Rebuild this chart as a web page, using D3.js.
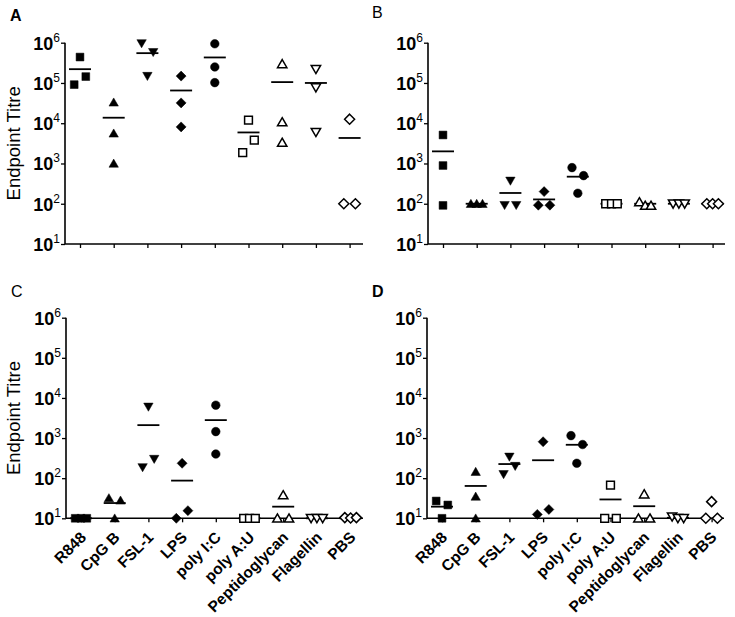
<!DOCTYPE html>
<html><head><meta charset="utf-8">
<script src="https://d3js.org/d3.v7.min.js"></script>
<style>body{margin:0;background:#fff}svg{display:block}</style>
</head><body>
<script>
const categories = ["R848","CpG B","FSL-1","LPS","poly I:C","poly A:U","Peptidoglycan","Flagellin","PBS"];
const tickExponents = [1,2,3,4,5,6];
// marker kind per category
const markerShape = ["square","triUp","triDown","diamond","circle","square","triUp","triDown","diamond"];
const markerFilled = [true,true,true,true,true,false,false,false,false];

// values per panel: 3 animals per category
const valuesA = [[4.4e5,9.1e4,1.44e5],[3.3e4,5.6e3,1.0e3],[9.6e5,5.8e5,1.48e5],[1.48e5,3.2e4,8.1e3],[9.4e5,2.5e5,1.02e5],[1.2e4,3.8e3,1.86e3],[2.97e5,1.07e4,3.3e3],[2.2e5,7.7e4,6.0e3],[1.26e4,100,100]];
const slotsA  = [[0,-1,1],[0,0,0],[-1,1,0],[0,0,0],[0,0,0],[0,1,-1],[0,0,0],[0,0,0],[0,-1,1]];
const meansA  = [2.2e5,1.37e4,5.5e5,6.5e4,4.3e5,5.9e3,1.05e5,1.0e5,4.3e3];

const valuesB = [[5.1e3,890,91],[100,100,100],[370,92,92],[200,92,92],[790,500,182],[100,100,100],[110,90,90],[100,100,100],[100,100,100]];
const slotsB  = [[0,0,0],[-1,0,1],[0,-1,1],[0,-1,1],[-1,1,0],[-1,0,1],[-1,0,1],[-1,0,1],[-1,0,1]];
const meansB  = [2.0e3,100,185,128,470,100,100,100,100];

const valuesC = [[10,10,10],[32,28,10],[6.0e3,186,300],[235,10,15.5],[6.6e3,1.45e3,400],[10,10,10],[38,10,10],[10,10,10],[10.4,10.2,10.4]];
const slotsC  = [[-1,0,1],[-1,1,0],[0,-1,1],[0,-1,1],[0,0,0],[-1,0,1],[0,-1,1],[-1,0,1],[-1,0,1]];
const meansC  = [10,24,2.1e3,87,2.8e3,10,19.5,10,10];

const valuesD = [[27,21.5,10],[145,35,10],[340,125,200],[810,12.5,16.6],[1150,690,235],[67,10,10],[40,10,10],[11,10,10],[26,10,10]];
const slotsD  = [[-1,1,0],[0,0,0],[0,-1,1],[0,-1,1],[-1,1,0],[0,-1,1],[0,-1,1],[-1,0,1],[0,-1,1]];
const meansD  = [19.5,64,225,280,680,29.5,20,10.3,null];

const panels = [
  {label:"A", bold:true,  lx:10, ly:21,  x0:65,  x1:363, yTop:42.7, yBot:244, values:valuesA, slots:slotsA, means:meansA, ylab:true,  xlab:false},
  {label:"B", bold:false, lx:372,ly:18,  x0:428, x1:725, yTop:42.7, yBot:244, values:valuesB, slots:slotsB, means:meansB, ylab:false, xlab:false},
  {label:"C", bold:false, lx:11, ly:297, x0:66,  x1:363, yTop:317.7,yBot:518.3,values:valuesC, slots:slotsC, means:meansC, ylab:true,  xlab:true},
  {label:"D", bold:true,  lx:372,ly:297, x0:427, x1:724, yTop:317.7,yBot:518.3,values:valuesD, slots:slotsD, means:meansD, ylab:false, xlab:true}
];

const W = 735, H = 617;
const svg = d3.select("body").append("svg").attr("width",W).attr("height",H)
  .style("font-family","Arial, 'Liberation Sans', sans-serif");

function markerPath(shape){
  const p = d3.path();
  if(shape==="square"){ const s=3.9; p.rect(-s,-s,2*s,2*s); }
  else if(shape==="triUp"){ const h=4.4, w=4.7; p.moveTo(0,-h); p.lineTo(w,h*0.85); p.lineTo(-w,h*0.85); p.closePath(); }
  else if(shape==="triDown"){ const h=4.4, w=4.7; p.moveTo(0,h); p.lineTo(w,-h*0.85); p.lineTo(-w,-h*0.85); p.closePath(); }
  else if(shape==="diamond"){ const s=5.0; p.moveTo(0,-s); p.lineTo(s,0); p.lineTo(0,s); p.lineTo(-s,0); p.closePath(); }
  else if(shape==="circle"){ p.arc(0,0,4.3,0,2*Math.PI); }
  return p.toString();
}

panels.forEach(P=>{
  const g = svg.append("g");
  const y = d3.scaleLog().domain([10,1e6]).range([P.yBot,P.yTop]);
  const step = 33.7;
  const x = d3.scalePoint().domain(categories)
    .range([P.x0+15, P.x0+15+step*(categories.length-1)]);
  const slotW = 5.8;

  // panel label
  g.append("text").attr("x",P.lx).attr("y",P.ly).text(P.label)
    .style("font-size","16px").style("font-weight",P.bold?"bold":"normal");

  // y axis
  const yAxis = d3.axisLeft(y).tickValues(tickExponents.map(e=>Math.pow(10,e))).tickSize(4).tickFormat("");
  const ya = g.append("g").attr("transform",`translate(${P.x0},0)`).call(yAxis);
  ya.select(".domain").attr("d",`M0,${P.yTop}V${P.yBot}`).attr("stroke","#000").attr("stroke-width",1.6);
  ya.selectAll(".tick line").attr("stroke","#000").attr("stroke-width",1.3);
  tickExponents.forEach(e=>{
    const t = g.append("text").attr("x",P.x0-5).attr("y",y(Math.pow(10,e))+7)
      .attr("text-anchor","end");
    t.append("tspan").text("10").style("font-size","18px").style("font-weight","bold");
    t.append("tspan").text(String(e)).attr("dy",-8).style("font-size","12px");
  });

  // x axis
  const xAxis = d3.axisBottom(x).tickSize(4).tickFormat("");
  const xa = g.append("g").attr("transform",`translate(0,${P.yBot})`).call(xAxis);
  xa.select(".domain").attr("d",`M${P.x0},0H${P.x1}`).attr("stroke","#000").attr("stroke-width",1.6);
  xa.selectAll(".tick line").attr("stroke","#000").attr("stroke-width",1.3);

  if(P.xlab){
    categories.forEach(c=>{
      g.append("text").attr("text-anchor","end")
        .attr("transform",`translate(${x(c)+6},${P.yBot+20}) rotate(-45)`)
        .text(c).style("font-size","15.5px").style("font-weight","bold");
    });
  }
  if(P.ylab){
    g.append("text").attr("text-anchor","middle")
      .attr("transform",`translate(20,${(P.yTop+P.yBot)/2}) rotate(-90)`)
      .text("Endpoint Titre").style("font-size","18.5px");
  }

  // mean lines
  categories.forEach((c,i)=>{
    if(P.means[i]==null) return;
    g.append("line").attr("x1",x(c)-11).attr("x2",x(c)+11)
      .attr("y1",y(P.means[i])).attr("y2",y(P.means[i]))
      .attr("stroke","#000").attr("stroke-width",1.8);
  });

  // points
  categories.forEach((c,i)=>{
    P.values[i].forEach((v,j)=>{
      g.append("path").attr("d",markerPath(markerShape[i]))
        .attr("transform",`translate(${x(c)+P.slots[i][j]*slotW},${y(v)})`)
        .attr("fill",markerFilled[i]?"#000":"#fff")
        .attr("stroke","#000").attr("stroke-width",markerFilled[i]?0.5:1.5);
    });
  });
});
</script>
</body></html>
